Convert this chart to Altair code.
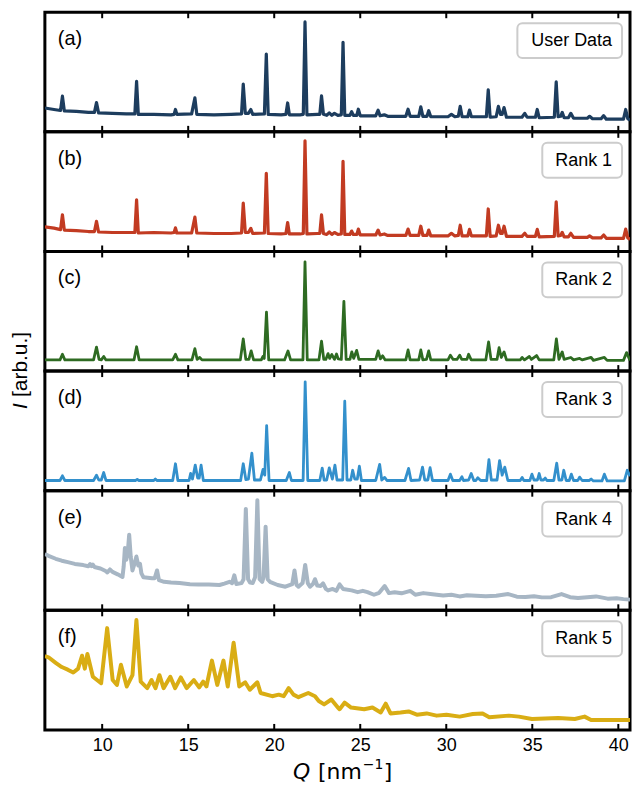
import altair as alt
import pandas as pd

# ---------------- data ----------------
q_a = [6.67, 7.2, 7.58, 7.69, 7.80, 8.5, 9.2, 9.55, 9.67, 9.79, 10.6, 11.4, 11.9, 12.0, 12.1, 13.0, 14.0, 14.18, 14.26, 14.34,
       15.2, 15.39, 15.50, 16.5, 17.5, 18.1, 18.2, 18.32, 18.5, 18.64, 18.75, 19.43, 19.54, 19.65, 20.4, 20.68, 20.78, 20.88,
       21.5, 21.69, 21.79, 21.90, 22.5, 22.65, 22.75, 22.86, 23.05, 23.2, 23.35, 23.5, 23.7, 23.9, 24.0, 24.1, 24.4, 24.5, 24.6,
       24.8, 24.89, 25.0, 25.9, 26.04, 26.15, 26.4, 26.6, 27.65, 27.78, 27.9, 28.4, 28.52, 28.64, 28.88, 28.98, 29.1, 30.1,
       30.3, 30.5, 30.7, 30.81, 30.92, 31.25, 31.35, 31.46, 32.33, 32.44, 32.55, 32.9, 33.03, 33.15, 33.25, 33.36, 33.5, 34.4,
       34.56, 34.7, 35.18, 35.29, 35.4, 36.28, 36.39, 36.5, 36.65, 36.74, 36.85, 37.1, 37.24, 37.4, 38.2, 38.33, 38.5, 39.0,
       39.15, 39.3, 40.3, 40.43, 40.55, 40.68]
i_a = [24.5, 23, 22, 36.7, 21.5, 21, 20, 20, 30, 19.5, 19, 18.5, 18.5, 52, 18, 18, 17.5, 18, 23, 18,
       18.5, 35, 18, 17.5, 18, 18.5, 49, 19, 19, 23, 18, 18.5, 80, 18, 17.5, 18, 29.7, 17.5,
       17.5, 18, 113, 17.5, 18, 18, 37, 18, 17, 19.5, 17, 19, 17, 17.5, 92, 17, 17, 20.7, 17,
       17, 23.3, 16.5, 16.5, 22.3, 16.5, 17.5, 16, 16, 23.3, 16, 16, 25.7, 16, 16, 21.7, 15.5, 15.5,
       18, 15.5, 16, 26.3, 15.5, 15.5, 22.3, 15.5, 15.5, 43.3, 15, 15.5, 26.3, 18, 18, 25, 15, 15,
       19, 15, 15, 23, 14.5, 15, 51.3, 15.5, 16, 20, 14.5, 14.5, 19, 14, 14, 16, 13.5, 13.5,
       16.7, 13, 13, 23, 13.5, 12]

q_b = q_a
i_b = [25.3, 24, 22.5, 37.7, 22, 21.5, 20.5, 20.5, 31, 20, 19.5, 19.5, 19.5, 53, 19, 19.5, 19, 19.5, 24.3, 19,
       19, 35.3, 19, 18.5, 18.5, 19, 49.7, 19.5, 19.5, 23.7, 18.5, 19, 80.3, 18.5, 18, 18.5, 29.7, 18,
       18, 18.5, 113.7, 18, 18.5, 18.5, 37.7, 18.5, 17.5, 20, 17.5, 19.5, 17.5, 18, 92.7, 17.5, 17.5, 21, 17.5,
       17.5, 23, 17, 17, 22, 17, 18, 16.5, 16.5, 23, 16.5, 16.5, 26, 16.5, 16.5, 22, 16, 16,
       18.7, 16, 16.5, 27, 16, 16, 22.7, 16, 16, 43.7, 15.5, 16, 27, 18.5, 18.5, 26, 15.5, 15.5,
       18.7, 15.5, 15.5, 22.7, 15, 15.5, 51, 16, 16.5, 19.7, 15, 15, 18.7, 14.5, 14.5, 16, 14, 14,
       17, 13.5, 13.5, 23, 14, 12.5]

q_c = [6.67, 7.55, 7.69, 7.83, 9.5, 9.67, 9.82, 9.95, 10.09, 10.22, 11.85, 12.0, 12.15, 14.1, 14.26, 14.4, 15.22, 15.39,
       15.52, 15.67, 15.8, 18.03, 18.2, 18.35, 18.53, 18.66, 18.8, 19.25, 19.34, 19.42, 19.55, 19.68, 20.6, 20.8, 20.95,
       21.67, 21.79, 21.92, 22.6, 22.75, 22.88, 23.0, 23.13, 23.22, 23.35, 23.5, 23.62, 23.72, 23.9, 24.05, 24.18, 24.4,
       24.51, 24.62, 24.79, 24.92, 25.9, 26.04, 26.17, 26.3, 26.45, 27.65, 27.78, 27.9, 28.4, 28.52, 28.64, 28.85, 28.98,
       29.1, 30.1, 30.24, 30.4, 30.62, 30.78, 30.9, 31.2, 31.3, 31.45, 32.3, 32.46, 32.6, 32.95, 33.07, 33.2, 33.36, 33.5,
       34.3, 34.41, 34.55, 34.83, 34.95, 35.25, 35.4, 36.25, 36.4, 36.55, 36.74, 36.85, 37.24, 37.4, 37.75, 37.9, 38.42,
       38.55, 39.19, 39.35, 40.3, 40.48, 40.68]
i_c = [11.5, 11.5, 17.3, 11.5, 11.5, 24.7, 12, 11.5, 15, 11.5, 11.5, 25, 11.5, 11.5, 17.3, 11.5, 11.5, 23,
       12, 14, 11.5, 11.5, 33, 12, 12, 20.7, 11.5, 11.5, 15, 13, 60.7, 11.5, 11.5, 20.7, 11.5,
       11.5, 112.3, 11.5, 11.5, 30.7, 12, 12, 18, 13, 17, 12, 17.5, 12.5, 12, 71.7, 12, 12,
       19.7, 13, 21.3, 12, 12, 20.7, 12.5, 15.7, 11.5, 11.5, 21.7, 11.5, 11.5, 21.7, 11.5, 12, 20.7,
       11.5, 11.5, 16.3, 12, 12, 16.3, 12, 12, 17.3, 11.5, 11.5, 30, 12, 12, 24, 14, 19.7, 11.5,
       11.5, 14, 11.5, 15, 12, 16, 11.5, 11.5, 33, 12, 19.7, 12, 14, 11.5, 13, 11.5, 14,
       11, 14, 11, 11, 19, 11]

q_d = [6.67, 7.55, 7.69, 7.83, 9.5, 9.67, 9.8, 9.95, 10.09, 10.22, 11.95, 12.04, 12.12, 13.0, 13.09, 13.18, 14.1, 14.26,
       14.4, 15.05, 15.14, 15.25, 15.41, 15.55, 15.64, 15.75, 15.88, 18.05, 18.2, 18.35, 18.5, 18.7, 18.85, 19.2, 19.35,
       19.45, 19.56, 19.7, 20.7, 20.88, 21.0, 21.68, 21.8, 21.95, 22.65, 22.79, 22.9, 23.05, 23.2, 23.38, 23.53, 23.65,
       23.98, 24.1, 24.23, 24.45, 24.56, 24.68, 24.83, 24.95, 25.07, 25.9, 26.13, 26.25, 26.42, 26.55, 27.6, 27.81, 27.95,
       28.45, 28.62, 28.75, 28.93, 29.06, 29.2, 30.1, 30.24, 30.38, 30.78, 30.91, 31.0, 31.3, 31.45, 31.6, 31.72, 31.83,
       32.0, 32.35, 32.48, 32.62, 32.95, 33.1, 33.25, 33.4, 33.58, 34.3, 34.41, 34.5, 34.86, 34.98, 35.1, 35.3, 35.4,
       35.5, 35.65, 35.75, 35.85, 36.25, 36.42, 36.55, 36.72, 36.83, 36.97, 37.15, 37.27, 37.4, 37.65, 37.75, 37.9, 38.3,
       38.42, 38.55, 39.05, 39.19, 39.35, 40.35, 40.52, 40.68]
i_d = [10.5, 10.5, 15.3, 10.5, 10.5, 16, 11, 11, 18.7, 10.5, 10.5, 11.7, 10.5, 10.5, 12, 10.5, 10.5, 27.7,
       10.5, 10.5, 17.7, 12, 26.3, 13, 13, 26.3, 10.5, 10.5, 27.7, 11.5, 12, 38.7, 11, 11, 22,
       16, 67, 10.5, 10.5, 18.7, 10.5, 10.5, 112, 10.5, 10.5, 23.3, 11, 11, 23.5, 12, 26.3, 11,
       11, 92, 11, 11, 21, 12, 12, 25.3, 10.5, 10.5, 27, 11, 13.7, 10.5, 10.5, 23, 10.5,
       11, 24.3, 11, 11, 23.7, 10.5, 10.5, 17, 10.5, 10.5, 14.3, 10.5, 11, 17.7, 10.5, 10.5, 13.3,
       10.5, 10.5, 32, 11, 11, 31, 16, 24.3, 10.5, 10.5, 13.7, 10.5, 10.5, 17, 11, 11, 17.7,
       11, 11, 13, 10.5, 10.5, 28.3, 11, 11, 21, 10.5, 10.5, 17, 10.5, 10.5, 14, 10.5, 10.5,
       12, 10, 10, 17, 10, 10, 21, 15]

q_e = [6.67, 6.88, 7.3, 7.65, 8.0, 8.41, 8.9, 9.2, 9.3, 9.38, 9.46, 9.55, 9.9, 10.2, 10.3, 10.45, 10.6, 10.9, 11.18,
       11.25, 11.32, 11.4, 11.48, 11.57, 11.66, 11.76, 11.88, 11.99, 12.1, 12.2, 12.28, 12.4, 12.9, 13.05, 13.19, 13.3,
       13.6, 14.0, 14.5, 15.1, 15.6, 16.2, 16.82, 17.1, 17.4, 17.55, 17.68, 17.8, 18.1, 18.22, 18.35, 18.48, 18.6, 18.75,
       18.89, 19.02, 19.15, 19.3, 19.38, 19.5, 19.62, 19.75, 20.2, 20.65, 21.05, 21.18, 21.3, 21.41, 21.65, 21.8, 21.95,
       22.08, 22.25, 22.37, 22.5, 22.7, 22.84, 23.0, 23.13, 23.4, 23.61, 23.8, 24.0, 24.5, 24.85, 25.15, 25.42, 25.8, 26.1,
       26.42, 26.67, 27.0, 27.4, 27.91, 28.2, 28.67, 29.2, 29.82, 30.3, 30.78, 31.2, 31.73, 32.3, 32.9, 33.6, 34.1, 34.6,
       35.1, 35.56, 36.1, 36.7, 37.2, 37.66, 38.2, 38.71, 39.38, 39.9, 40.3, 40.68]
i_e = [58, 56, 53, 51, 49.5, 47.7, 46.5, 45.3, 47.5, 45.5, 47, 44.5, 43, 40.5, 39, 42, 39.5, 37, 34.3,
       45, 64, 52, 58, 77.7, 55, 41, 48, 55.3, 46, 47.7, 38, 34, 33, 33, 41, 31,
       29.3, 28.5, 28, 26.7, 26.5, 26.5, 26, 27.5, 29.3, 28, 36, 27, 28, 32, 104.3, 32, 28.5, 28,
       34, 113.3, 32, 29.3, 34, 86, 32, 29.3, 26, 24.3, 27, 41, 26, 24.3, 28, 46.7, 28,
       24.3, 27, 32, 25.5, 25, 27.7, 22, 20.5, 22, 20, 26.7, 22, 20.5, 18.7, 20, 18.7, 16, 18,
       25, 17.7, 18.5, 17.5, 20, 16, 17.7, 16.5, 15.3, 16, 14.3, 15.5, 15, 14.5, 15, 16.7, 14, 13.7,
       14.5, 13.3, 13.5, 16.7, 13.5, 12.7, 13.5, 14.3, 12, 12.5, 11.5, 11]

q_f = [6.67, 6.88, 7.3, 7.65, 8.0, 8.32, 8.6, 8.83, 8.99, 9.14, 9.46, 9.94, 10.29, 10.61, 10.86, 11.09, 11.43, 11.76,
       11.99, 12.24, 12.62, 12.87, 13.1, 13.33, 13.57, 13.96, 14.24, 14.57, 14.91, 15.33, 15.64, 15.87, 16.06, 16.38,
       16.69, 17.05, 17.3, 17.64, 17.97, 18.31, 18.58, 19.02, 19.21, 19.88, 20.26, 20.55, 20.84, 21.12, 21.41, 21.98,
       22.37, 22.59, 22.9, 23.32, 23.7, 23.8, 24.09, 24.47, 25.23, 25.71, 26.19, 26.48, 26.76, 27.34, 27.81, 28.29,
       28.86, 29.44, 30.01, 30.78, 31.54, 32.11, 32.5, 33.64, 34.22, 34.98, 36.51, 37.47, 38.04, 38.42, 40.33, 40.68]
i_f = [76, 74.7, 69, 64.7, 62, 59, 63, 76.3, 63, 78, 54.7, 48, 104.7, 51.3, 46.3, 67, 44.7, 56.3,
       113, 49.7, 43, 51.3, 43, 56.3, 43, 54.7, 43, 54, 43, 51.3, 43.7, 49.7, 44.7, 71.3,
       46.3, 71.3, 44.7, 89.7, 44.7, 49, 41.3, 49, 38, 34.7, 36.3, 34.7, 43, 36.3, 33.7, 38,
       34.7, 29.7, 26.3, 31.3, 23, 21.3, 28, 23, 21.3, 23, 18, 27, 17, 18, 19, 15.7,
       17, 14.7, 15.7, 13.7, 16.3, 17, 13, 14.7, 13.7, 11.3, 12.3, 11.3, 13.7, 10.3, 10.3, 10.3]

panel_tags = ["(a)", "(b)", "(c)", "(d)", "(e)", "(f)"]
legend_names = ["User Data", "Rank 1", "Rank 2", "Rank 3", "Rank 4", "Rank 5"]
colors = ["#1d3d5e", "#c23b22", "#2e6b22", "#3390cc", "#a7b6c4", "#d9ad14"]
line_widths = [3.2, 3.2, 2.8, 2.8, 4, 4]
tick_values = [10, 15, 20, 25, 30, 35, 40]
series = [(q_a, i_a), (q_b, i_b), (q_c, i_c), (q_d, i_d), (q_e, i_e), (q_f, i_f)]

# ---------------- layout ----------------
W = 587
H = 120
FONT = "Liberation Sans"
TFONT = "DejaVu Sans"
xscale = alt.Scale(domain=[6.67, 40.68], nice=False, zero=False)
yscale = alt.Scale(domain=[0, 123], nice=False, zero=True)
one = pd.DataFrame({"d": [0]})


def txt(text, x, y, size, font=FONT, style="normal", align="left", baseline="middle", angle=0):
    return alt.Chart(one).mark_text(text=text, font=font, fontSize=size, fontStyle=style, align=align,
                                    baseline=baseline, angle=angle, color="black").encode(
        x=alt.value(x), y=alt.value(y))


panels = []
for k, ((q, inten), tag, name, col, lw) in enumerate(zip(series, panel_tags, legend_names, colors, line_widths)):
    last = k == len(series) - 1
    df = pd.DataFrame({"Q": q, "I": inten})
    if last:
        xaxis = alt.Axis(values=tick_values, ticks=False, domain=False, grid=False, title=None,
                         labelFont=FONT, labelFontSize=18, labelColor="black", labelPadding=7)
    else:
        xaxis = None
    line = alt.Chart(df).mark_line(color=col, strokeWidth=lw, strokeJoin="round", clip=True).encode(
        x=alt.X("Q:Q", scale=xscale, axis=xaxis),
        y=alt.Y("I:Q", scale=yscale, axis=None),
    )
    tdf = pd.DataFrame({"Q": tick_values})
    top_ticks = alt.Chart(tdf).mark_rule(color="black", strokeWidth=2).encode(
        x=alt.X("Q:Q", scale=xscale, axis=xaxis), y=alt.value(0), y2=alt.value(6))
    bot_ticks = alt.Chart(tdf).mark_rule(color="black", strokeWidth=2).encode(
        x=alt.X("Q:Q", scale=xscale, axis=xaxis), y=alt.value(H - 6), y2=alt.value(H))
    tag_txt = txt(tag, 13, 27, 20)
    bx0 = W - 113 if k == 0 else W - 88
    box = alt.Chart(one).mark_rect(fill="white", stroke="#cccccc", strokeWidth=2, cornerRadius=5).encode(
        x=alt.value(bx0), x2=alt.value(W - 8), y=alt.value(11), y2=alt.value(46))
    leg_txt = txt(name, W - 18, 29, 18, align="right")
    layers = [line, top_ticks, bot_ticks, tag_txt, box, leg_txt]
    if k == 3:
        layers += [txt("I", -24, 38, 21, style="italic", angle=270),
                   txt("[arb.u.]", -24, 38 - 12, 21, angle=270)]
    if last:
        layers += [
            txt("Q", 249, H + 49, 22, font=TFONT, style="italic", baseline="alphabetic"),
            txt("[nm", 274, H + 49, 22, font=TFONT, baseline="alphabetic"),
            txt("\u22121", 319, H + 39, 14, font=TFONT, baseline="alphabetic"),
            txt("]", 340, H + 49, 22, font=TFONT, baseline="alphabetic"),
        ]
    panels.append(alt.layer(*layers).properties(width=W, height=H))

chart = alt.vconcat(*panels, spacing=0, bounds="flush").properties(
    padding={"left": 0, "top": 0, "right": 0, "bottom": 0}
).configure_view(stroke="black", strokeWidth=3)

chart.save("out.html", embed_options={"renderer": "svg", "actions": False})
